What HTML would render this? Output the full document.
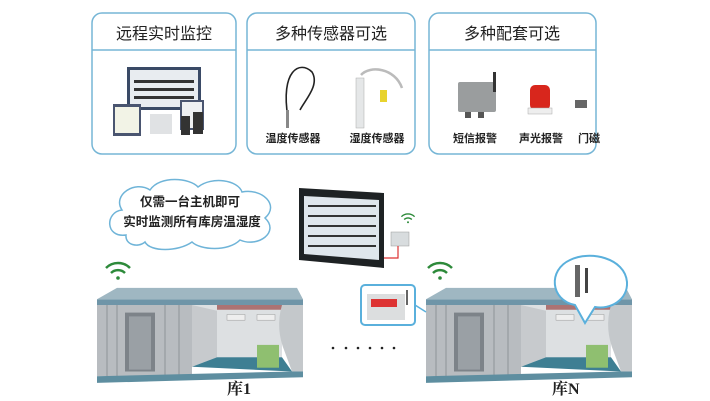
<!DOCTYPE html>
<html><head><meta charset="utf-8"><style>
body{margin:0;background:#fff;}
svg{display:block;font-family:"Liberation Sans","Noto Sans CJK SC",sans-serif;}
</style></head><body>
<svg width="710" height="401" viewBox="0 0 710 401" xmlns="http://www.w3.org/2000/svg">
<defs>
<g id="wh">
  <polygon points="0,14 20,2 200,2 206,14" fill="#9fb7c2"/>
  <rect x="0" y="14" width="206" height="6" fill="#6f95a8"/>
  <rect x="0" y="20" width="95" height="75" fill="#b8bcc0"/>
  <rect x="28" y="28" width="30" height="62" fill="#7d8389"/>
  <rect x="32" y="32" width="22" height="56" fill="#9aa0a5"/>
  <line x1="10" y1="20" x2="10" y2="95" stroke="#8e9499"/>
  <line x1="20" y1="20" x2="20" y2="95" stroke="#8e9499"/>
  <line x1="68" y1="20" x2="68" y2="95" stroke="#8e9499"/>
  <line x1="82" y1="20" x2="82" y2="95" stroke="#8e9499"/>
  <rect x="95" y="20" width="90" height="55" fill="#dde0e2"/>
  <polygon points="95,20 95,85 120,75 120,26" fill="#c7cacd"/>
  <polygon points="95,85 120,75 185,75 195,90" fill="#3e7f93"/>
  <rect x="120" y="20" width="65" height="5" fill="#8c2a2a" opacity="0.6"/>
  <rect x="130" y="30" width="18" height="6" fill="#eee" stroke="#999" stroke-width="0.5"/>
  <rect x="160" y="30" width="18" height="6" fill="#eee" stroke="#999" stroke-width="0.5"/>
  <rect x="160" y="62" width="22" height="24" fill="#8fbf70"/>
  <path d="M185,20 Q178,45 188,70 L195,90 L206,90 L206,20Z" fill="#c4c8cb"/>
  <polygon points="0,95 195,90 206,90 206,96 0,102" fill="#5e8ea0"/>
</g>
<g id="wifi" fill="none" stroke="#2d8a3a" stroke-width="2.5">
  <path d="M-12,-6 A17,17 0 0 1 12,-6"/>
  <path d="M-7,-1 A10,10 0 0 1 7,-1"/>
  <circle cx="0" cy="4" r="1.8" fill="#2d8a3a" stroke="none"/>
</g>
</defs>

<g stroke="#76b6d6" stroke-width="1.5" fill="#fff">
  <rect x="92" y="13" width="144" height="141" rx="10"/>
  <rect x="247" y="13" width="168" height="141" rx="10"/>
  <rect x="429" y="13" width="167" height="141" rx="10"/>
  <line x1="92" y1="50" x2="236" y2="50"/>
  <line x1="247" y1="50" x2="415" y2="50"/>
  <line x1="429" y1="50" x2="596" y2="50"/>
</g>
<g font-size="16" fill="#222" text-anchor="middle">
  <text x="164" y="39">远程实时监控</text>
  <text x="331" y="39">多种传感器可选</text>
  <text x="512" y="39">多种配套可选</text>
</g>
<rect x="127" y="67" width="74" height="43" fill="#3a4a66"/>
<rect x="130" y="70" width="68" height="37" fill="#e8ecf0"/>
<g fill="#333"><rect x="134" y="80" width="60" height="3"/><rect x="134" y="88" width="60" height="3"/><rect x="134" y="96" width="60" height="3"/></g>
<rect x="113" y="104" width="28" height="32" fill="#4a5570"/><rect x="115" y="107" width="24" height="26" fill="#f2f3e6"/>
<rect x="180" y="100" width="24" height="30" fill="#4a5570"/><rect x="182" y="102" width="20" height="26" fill="#eef0f2"/>
<rect x="181" y="116" width="9" height="19" fill="#333"/><rect x="193" y="112" width="10" height="22" fill="#333"/>
<rect x="150" y="114" width="22" height="20" fill="#e0e2e4"/>
<path d="M288,118 C280,70 300,60 312,72 C320,85 305,100 300,110" fill="none" stroke="#222" stroke-width="1.6"/>
<rect x="286" y="110" width="3" height="18" fill="#888"/>
<path d="M361,75 C370,65 395,68 402,88" fill="none" stroke="#bbb" stroke-width="2.5"/>
<rect x="356" y="78" width="8" height="50" fill="#e5e7e8" stroke="#aaa" stroke-width="0.5"/>
<rect x="380" y="90" width="7" height="12" fill="#e8d32e"/>
<g font-size="11" fill="#222" text-anchor="middle" font-weight="bold">
  <text x="293" y="142">温度传感器</text>
  <text x="377" y="142">湿度传感器</text>
  <text x="475" y="142">短信报警</text>
  <text x="541" y="142">声光报警</text>
  <text x="589" y="142">门磁</text>
</g>
<rect x="458" y="82" width="38" height="30" rx="2" fill="#9a9d9e"/>
<rect x="493" y="72" width="3" height="20" fill="#333"/>
<rect x="465" y="112" width="6" height="6" fill="#555"/><rect x="478" y="112" width="6" height="6" fill="#555"/>
<rect x="530" y="85" width="20" height="25" rx="5" fill="#d8261c"/>
<rect x="528" y="108" width="24" height="6" fill="#eee" stroke="#aaa" stroke-width="0.5"/>
<rect x="575" y="100" width="12" height="8" fill="#666"/>

<path d="M126,235 C105,238 105,212 122,210 C112,195 135,180 150,190 C160,175 190,178 198,187 C212,176 238,180 242,192 C262,188 280,205 265,218 C280,232 258,248 240,240 C228,252 200,250 192,242 C178,252 150,252 145,242 C138,248 125,245 126,235Z" fill="#fff" stroke="#6fb4d8" stroke-width="1.5"/>
<g font-size="12.5" fill="#222" text-anchor="middle" font-weight="bold">
  <text x="190" y="206">仅需一台主机即可</text>
  <text x="192" y="226">实时监测所有库房温湿度</text>
</g>

<polygon points="299,188 384,193 384,268 299,260" fill="#1e2224"/>
<polygon points="304,196 379,200 379,260 304,254" fill="#dfe6ec"/>
<g fill="#333"><rect x="308" y="205" width="68" height="2"/><rect x="308" y="215" width="68" height="2"/><rect x="308" y="225" width="68" height="2"/><rect x="308" y="235" width="68" height="2"/><rect x="308" y="245" width="68" height="2"/></g>
<rect x="391" y="232" width="18" height="14" fill="#d8dcde" stroke="#999" stroke-width="0.5"/>
<path d="M384,258 L398,258 L398,246" fill="none" stroke="#d33" stroke-width="1.2"/>
<use href="#wifi" transform="translate(408,220) scale(0.55)"/>

<use href="#wh" transform="translate(97,286) scale(1,0.95)"/>
<use href="#wh" transform="translate(426,286) scale(1,0.95)"/>
<use href="#wifi" transform="translate(118,274)"/>
<use href="#wifi" transform="translate(440,274)"/>

<rect x="361" y="285" width="54" height="40" rx="4" fill="#fff" stroke="#5ab0dc" stroke-width="2"/>
<rect x="367" y="294" width="38" height="26" fill="#dcdedf"/>
<rect x="371" y="299" width="26" height="8" fill="#d33"/>
<line x1="407" y1="290" x2="407" y2="305" stroke="#333" stroke-width="1.5"/>
<line x1="415" y1="305" x2="426" y2="312" stroke="#5ab0dc" stroke-width="1.5"/>

<path d="M575,305 C550,300 548,270 570,260 C590,250 625,258 627,282 C628,300 610,310 595,307 L585,323 Z" fill="#fff" stroke="#5ab0dc" stroke-width="2"/>
<rect x="575" y="265" width="5" height="32" fill="#666"/>
<rect x="585" y="268" width="3" height="25" fill="#444"/>

<g fill="#222"><circle cx="333" cy="348" r="1.3"/><circle cx="346" cy="348" r="1.3"/><circle cx="358" cy="348" r="1.3"/><circle cx="370" cy="348" r="1.3"/><circle cx="382" cy="348" r="1.3"/><circle cx="394" cy="348" r="1.3"/></g>

<g font-size="16" fill="#222" font-weight="bold" font-family="Liberation Serif,'Noto Serif CJK SC',serif">
  <text x="227" y="394">库1</text>
  <text x="552" y="394">库N</text>
</g>
</svg>
</body></html>
